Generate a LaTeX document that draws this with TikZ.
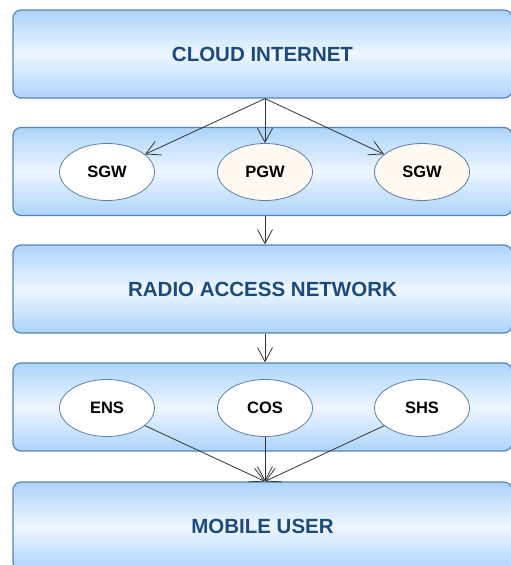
\documentclass[tikz,border=0pt]{standalone}
\usepackage{fontspec}
\setmainfont{Liberation Sans}
\usetikzlibrary{arrows.meta,shapes.geometric}
\definecolor{boxedge}{HTML}{5A82B4}
\definecolor{boxlight}{HTML}{ACD4FB}
\definecolor{boxmid}{HTML}{EEF6FF}
\definecolor{labelblue}{HTML}{1B4A7E}
\definecolor{elledge}{HTML}{5D7FA8}
\definecolor{cream}{HTML}{FFFAF1}
\begin{document}
\begin{tikzpicture}[x=1pt,y=-1pt,
  layer/.style={draw=boxedge, line width=1.2pt, rounded corners=8pt,
    top color=boxlight, bottom color=boxlight, middle color=boxmid,
    minimum width=499pt, minimum height=88pt, inner sep=0pt,
    font=\fontsize{20.5}{24}\selectfont\bfseries, text=labelblue},
  unit/.style={ellipse, draw=elledge, line width=0.8pt, fill=white,
    minimum width=95pt, minimum height=57pt, inner sep=0pt,
    font=\fontsize{16.5}{19}\selectfont\bfseries, text=black},
  conn/.style={draw=black!80, line width=0.8pt,
    -{Straight Barb[length=14pt,width=15pt,line width=0.8pt]}}]
\useasboundingbox (0,0) rectangle (511,565);
\clip (0,0) rectangle (511,565);
\fill[white] (0,0) rectangle (511,565);
% layers
\node[layer] (cloud) at (262.5,54) {CLOUD INTERNET};
\node[layer] (gw) at (262.5,171.5) {};
\node[layer] (ran) at (262.5,289) {RADIO ACCESS NETWORK};
\node[layer] (svc) at (262.5,407) {};
\node[layer] (mobile) at (262.5,526) {MOBILE USER};
% gateways
\node[unit] (sgwa) at (107,172) {SGW};
\node[unit, fill=cream] (pgw) at (265,172) {PGW};
\node[unit, fill=cream] (sgwb) at (422,172) {SGW};
% services
\node[unit] (ens) at (107,408) {ENS};
\node[unit] (cos) at (265,408) {COS};
\node[unit] (shs) at (422,408) {SHS};
% connectors
\coordinate (ctop) at (cloud.south -| pgw);
\draw[conn] (ctop) -- (sgwa);
\draw[conn] (ctop) -- (pgw);
\draw[conn] (ctop) -- (sgwb);
\draw[conn] (gw.south -| pgw) -- (ran.north -| pgw);
\draw[conn] (ran.south -| pgw) -- (svc.north -| pgw);
\coordinate (mtop) at (mobile.north -| cos);
\draw[conn] (ens) -- (mtop);
\draw[conn] (cos) -- (mtop);
\draw[conn] (shs) -- (mtop);
\end{tikzpicture}
\end{document}
